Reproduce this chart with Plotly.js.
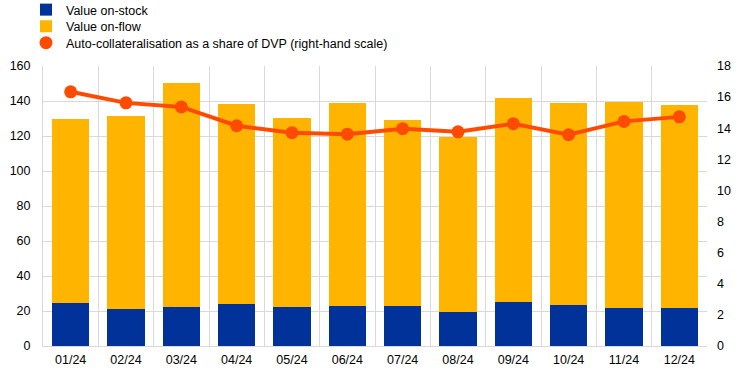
<!DOCTYPE html>
<html>
<head>
<meta charset="utf-8">
<script src="https://cdn.plot.ly/plotly-3.0.1.min.js"></script>
<style>html,body{margin:0;padding:0;background:#fff;}#chart{width:744px;height:374px;}</style>
</head>
<body>
<div id="chart"></div>
<script>
const months = ["01/24","02/24","03/24","04/24","05/24","06/24","07/24","08/24","09/24","10/24","11/24","12/24"];
const stockValues = [24.6, 21.3, 22.3, 24.0, 22.3, 22.9, 22.9, 19.4, 25.1, 23.4, 21.7, 21.7];
const flowValues = [105.1, 110.1, 128.0, 114.3, 108.0, 116.0, 106.2, 100.0, 116.6, 115.5, 117.7, 116.0];
const autoShare = [16.34, 15.63, 15.37, 14.16, 13.71, 13.62, 13.97, 13.77, 14.29, 13.58, 14.44, 14.73];
const leftTicks = [0,20,40,60,80,100,120,140,160];
const rightTicks = [0,2,4,6,8,10,12,14,16,18];

const blue = "#003299", yellow = "#FFB400", orange = "#FF4B00";

const traces = [
  {type:"bar", name:"Value on-stock", x:months, y:stockValues, marker:{color:blue}, hoverinfo:"skip", legend:"legend"},
  {type:"bar", name:"Value on-flow", x:months, y:flowValues, marker:{color:yellow}, hoverinfo:"skip", legend:"legend2"},
  {type:"scatter", mode:"lines+markers", name:"Auto-collateralisation as a share of DVP (right-hand scale)",
   x:months, y:autoShare, yaxis:"y2", showlegend:false,
   line:{color:orange, width:4}, marker:{color:orange, size:13}},
  {type:"scatter", mode:"markers", name:"Auto-collateralisation as a share of DVP (right-hand scale)",
   x:[months[0]], y:[null], yaxis:"y2", marker:{color:orange, size:13}, legend:"legend3"}
];

function leg(py){
  return {orientation:"v", xref:"container", x:26/744, xanchor:"left", yref:"container", y:1-py/374, yanchor:"middle",
          font:{size:12.5, color:"#000"}, itemwidth:30, bgcolor:"rgba(0,0,0,0)", borderwidth:0};
}

const layout = {
  width:744, height:374,
  margin:{l:43, r:37, t:66, b:28, autoexpand:false},
  paper_bgcolor:"#fff", plot_bgcolor:"#fff",
  font:{family:"Liberation Sans, Arial, sans-serif", size:12, color:"#000"},
  barmode:"stack", bargap:0.33,
  showlegend:true,
  legend:leg(10), legend2:leg(26.5), legend3:leg(43),
  xaxis:{type:"category", range:[-0.5, months.length-0.5], tickson:"boundaries", showgrid:true, gridcolor:"#d9d9d9", gridwidth:1, automargin:false,
         showline:true, linecolor:"#d9d9d9", ticks:"", tickfont:{size:12.5}, tickangle:0, zeroline:false, ticklabelstandoff:2},
  yaxis:{range:[0,160], tickvals:leftTicks, showgrid:true, gridcolor:"#d9d9d9", gridwidth:1, automargin:false,
         showline:true, linecolor:"#d9d9d9", ticks:"", zeroline:false, tickfont:{size:12.5}, ticklabelstandoff:9},
  yaxis2:{range:[0,18], tickvals:rightTicks, overlaying:"y", side:"right", showgrid:false, automargin:false,
          showline:false, ticks:"", zeroline:false, tickfont:{size:12.5}, ticklabelstandoff:9}
};

Plotly.newPlot("chart", traces, layout, {displayModeBar:false, staticPlot:true});
</script>
</body>
</html>
